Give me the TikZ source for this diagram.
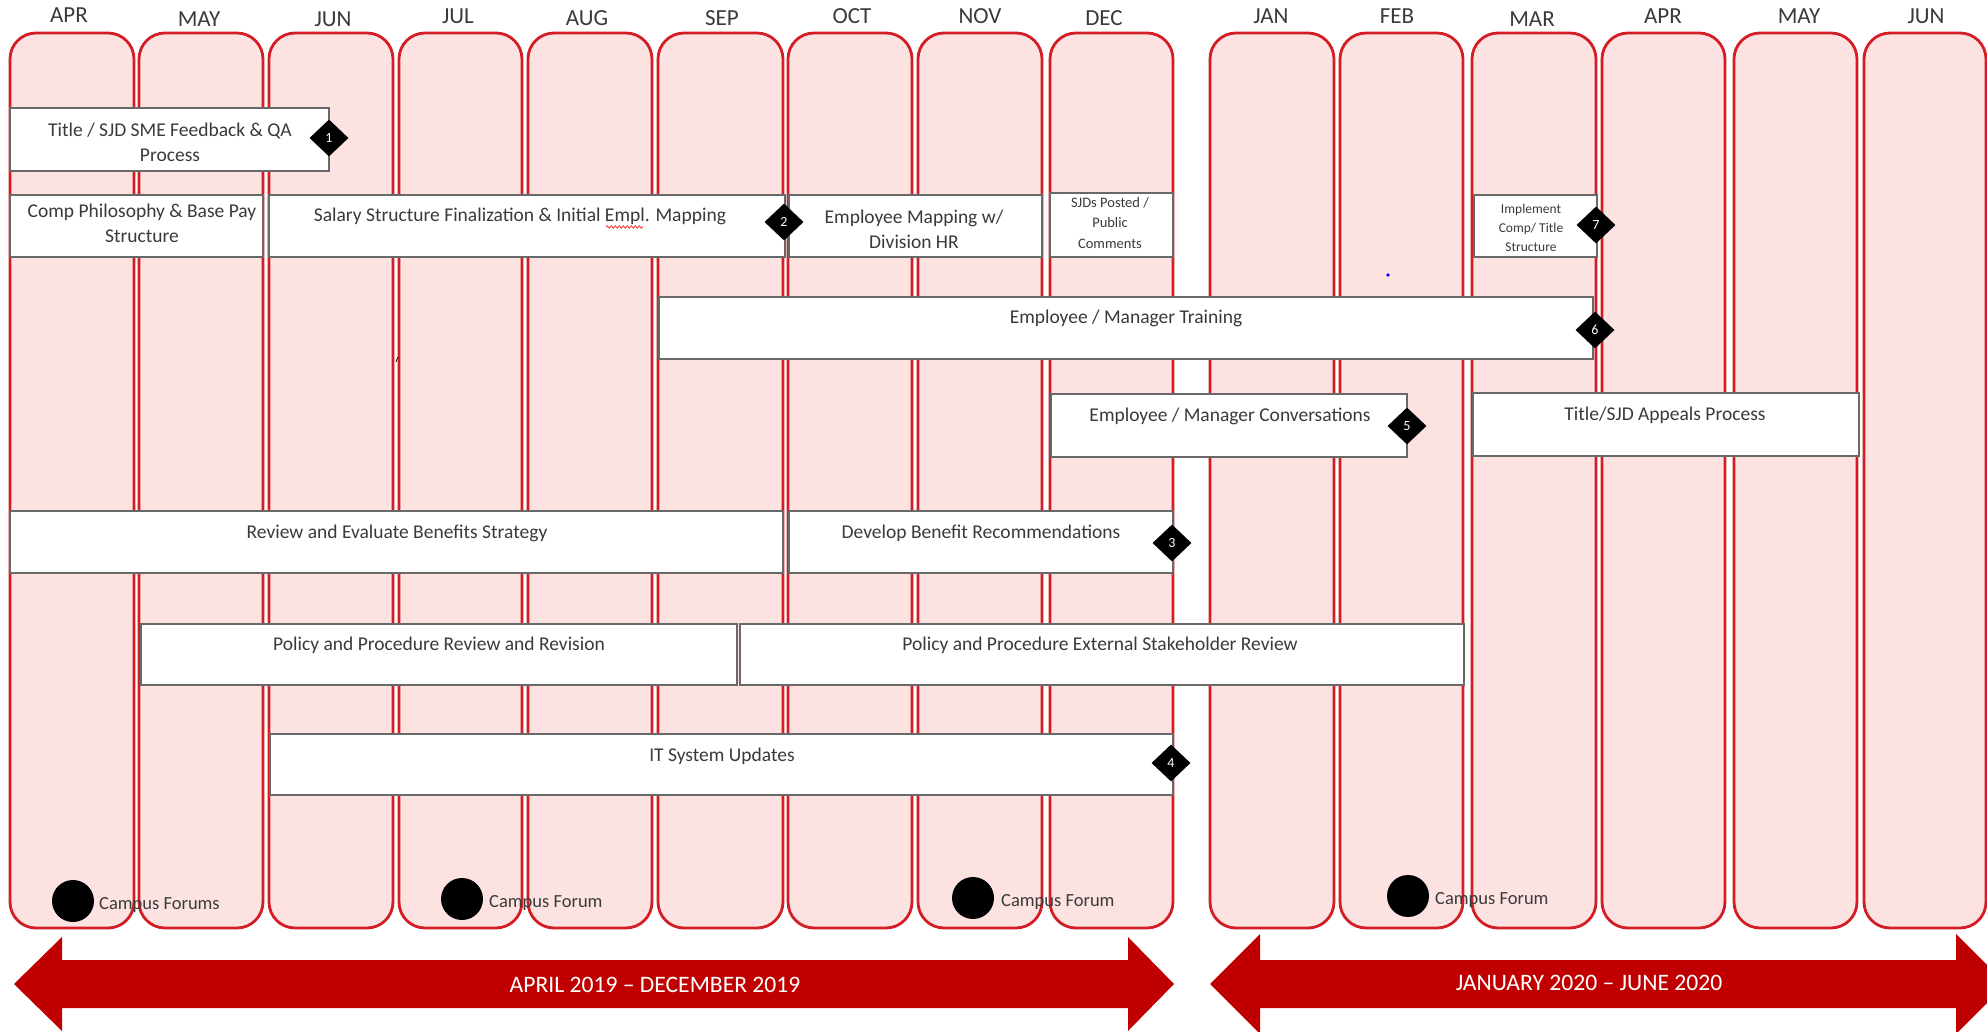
\documentclass[tikz,border=0pt]{standalone}
\usepackage{fontspec}
\setmainfont{Carlito}
\usetikzlibrary{shapes.geometric,decorations.pathmorphing}
\definecolor{colpink}{RGB}{253,226,226}
\definecolor{colred}{RGB}{210,30,36}
\definecolor{arrred}{RGB}{192,0,0}
\definecolor{boxgray}{RGB}{105,105,105}
\definecolor{txtgray}{RGB}{58,58,58}
\newcommand{\taskbox}[5]{\node[task,minimum width={(#4-#2)*1pt},minimum height={(#5-#3)*1pt}] (#1) at (#2,#3) {};}
\begin{document}
\begin{tikzpicture}[x=1pt,y=-1pt,
  col/.style={draw=colred,line width=2.8pt,fill=colpink,rounded corners=26pt},
  task/.style={draw=boxgray,line width=1.6pt,fill=white,inner sep=0pt,outer sep=0pt,anchor=north west},
  tasktxt/.style={text=txtgray,font={\fontsize{19.5}{25}\selectfont},inner sep=0pt,align=center},
  onel/.style={tasktxt,text height=0.65em,text depth=0.15em},
  smalltxt/.style={text=txtgray,font={\fontsize{14.5}{20.5}\selectfont},inner sep=0pt,align=center},
  tinytxt/.style={text=txtgray,font={\fontsize{13.5}{19}\selectfont},inner sep=0pt,align=center},
  ms/.style={diamond,fill=black,minimum width=39pt,minimum height=37pt,inner sep=0pt,text=white,font={\fontsize{14}{14}\selectfont}},
  month/.style={text=txtgray,font={\fontsize{23}{23}\selectfont},inner sep=0pt},
  forum/.style={circle,fill=black,minimum size=42pt,inner sep=0pt},
  forumtxt/.style={text=txtgray,font={\fontsize{18.5}{18.5}\selectfont},inner sep=0pt,anchor=west},
  arrtxt/.style={text=white,font={\fontsize{23.6}{23.6}\selectfont},inner sep=0pt}
]
\useasboundingbox (0,0) rectangle (1987,1032);
\clip (0,0) rectangle (1987,1032);
\fill[white] (0,0) rectangle (1987,1032);

% month columns
\foreach \a/\b in {10/134,139/263,269/393,399/522,528/652,658/783,788/912,918/1042,1050/1173,1210/1334,1340/1463,1472/1596,1602/1725,1734/1857,1864/1986}
  \draw[col] (\a,33) rectangle (\b,928);

% month labels
\foreach \x/\y/\t [count=\i] in {69/15/APR,199/19/MAY,333/19/JUN,458/16/JUL,587/18/AUG,722/18/SEP,852/16/OCT,980/16/NOV,1104/18/DEC,1271/16/JAN,1397/16/FEB,1532/19/MAR,1663/16/APR,1799/16/MAY,1926/16/JUN}
  \node[month] (m\i) at (\x,\y) {\t};

% task boxes
\taskbox{tA}{10}{108}{329}{171}
\taskbox{tB}{10}{195}{263}{257}
\taskbox{tC}{269}{195}{785}{257}
\taskbox{tD}{789}{195}{1042}{257}
\taskbox{tE}{1050}{193}{1173}{257}
\taskbox{tF}{1474}{195}{1597}{257}
\taskbox{tG}{659}{297}{1593}{359}
\taskbox{tH}{1051}{394}{1407}{457}
\taskbox{tI}{1473}{393}{1859}{456}
\taskbox{tJ}{10}{511}{783}{573}
\taskbox{tK}{789}{511}{1173}{573}
\taskbox{tL}{141}{624}{737}{685}
\taskbox{tM}{740}{624}{1464}{685}
\taskbox{tN}{270}{734}{1173}{795}

% task texts
\node[tasktxt] (xA) at (170,142) {Title / SJD SME Feedback \& QA\\Process};
\node[tasktxt] (xB) at (142,223.5) {Comp Philosophy \& Base Pay\\Structure};
\node[onel] (xC) at (520,219) {Salary Structure Finalization \& Initial Empl. Mapping};
\node[tasktxt] (xD) at (914,229) {Employee Mapping w/\\Division HR};
\node[smalltxt] (xE) at (1110,223) {SJDs Posted /\\Public\\Comments};
\node[tinytxt] (xF) at (1531,228) {Implement\\Comp/ Title\\Structure};
\node[onel] (xG) at (1126,321) {Employee / Manager Training};
\node[onel] (xH) at (1230,419) {Employee / Manager Conversations};
\node[onel] (xI) at (1665,418) {Title/SJD Appeals Process};
\node[onel] (xJ) at (397,536) {Review and Evaluate Benefits Strategy};
\node[onel] (xK) at (981,536) {Develop Benefit Recommendations};
\node[onel] (xL) at (439,648) {Policy and Procedure Review and Revision};
\node[onel] (xM) at (1100,648) {Policy and Procedure External Stakeholder Review};
\node[onel] (xN) at (722,759) {IT System Updates};

% spell-check squiggle
\draw[red!80,line width=0.8pt,decorate,decoration={snake,amplitude=1.2pt,segment length=4pt}] (606,227) -- (643,227);

% milestones
\node[ms] (d1) at (329,138) {1};
\node[ms] (d2) at (784,222) {2};
\node[ms] (d3) at (1172,543) {3};
\node[ms] (d4) at (1171,763) {4};
\node[ms] (d5) at (1407,426) {5};
\node[ms] (d6) at (1595,330) {6};
\node[ms] (d7) at (1596,225) {7};

% stray marks
\fill[blue] (1388,275) circle (1.8pt);
\draw[black,line width=0.8pt] (396,362) -- (398,357);

% campus forums
\node[forum] (f1) at (73,901) {};
\node[forumtxt] (f1t) at (99,905) {Campus Forums};
\node[forum] (f2) at (462,899) {};
\node[forumtxt] (f2t) at (489,903) {Campus Forum};
\node[forum] (f3) at (973,898) {};
\node[forumtxt] (f3t) at (1001,902) {Campus Forum};
\node[forum] (f4) at (1408,896) {};
\node[forumtxt] (f4t) at (1435,900) {Campus Forum};

% period arrows
\fill[arrred] (14,984) -- (62,937) -- (62,960) -- (1128,960) -- (1128,937) -- (1174,984) -- (1128,1031) -- (1128,1008) -- (62,1008) -- (62,1031) -- cycle;
\fill[arrred] (1210,984) -- (1260,934) -- (1260,960) -- (1956,960) -- (1956,934) -- (2006,984) -- (1956,1034) -- (1956,1008) -- (1260,1008) -- (1260,1034) -- cycle;
\node[arrtxt] (p1) at (655,985) {APRIL 2019 – DECEMBER 2019};
\node[arrtxt] (p2) at (1589,983) {JANUARY 2020 – JUNE 2020};
\end{tikzpicture}
\end{document}
